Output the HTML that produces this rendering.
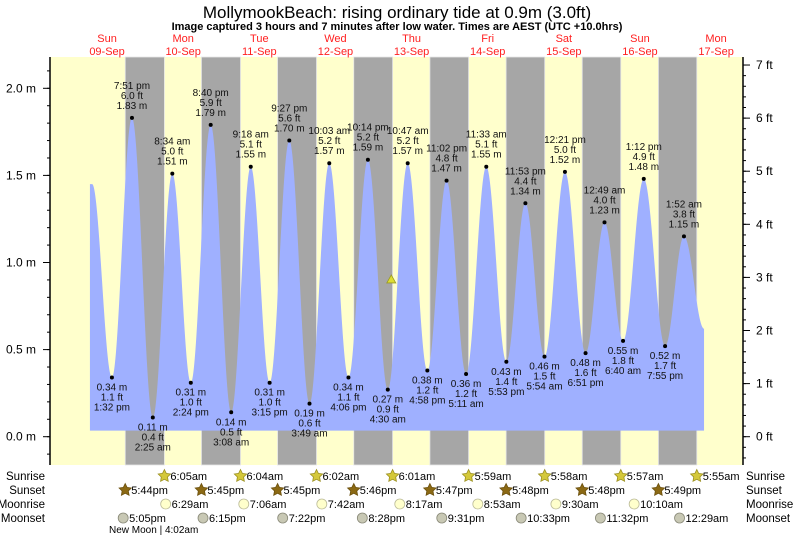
<!DOCTYPE html>
<html><head><meta charset="utf-8">
<style>
html,body{margin:0;padding:0;background:#fff;}
svg{display:block;font-family:"Liberation Sans",sans-serif;}
</style></head>
<body>
<svg id="chart" width="793" height="539" viewBox="0 0 793 539" xmlns="http://www.w3.org/2000/svg">
<text x="397" y="18" text-anchor="middle" font-size="17" fill="#000">MollymookBeach: rising  ordinary tide at 0.9m (3.0ft)</text>
<text x="397" y="30" text-anchor="middle" font-size="11" font-weight="bold" fill="#000">Image captured 3 hours and 7 minutes after low water. Times are AEST (UTC +10.0hrs)</text>
<g id="bg"></g><g id="tide"></g><g id="marks"></g><g id="axes"></g><g id="rows"></g>
</svg>
<script>
// ---- data ----
const dayNames = ["Sun","Mon","Tue","Wed","Thu","Fri","Sat","Sun","Mon"];
const dayDates = ["09-Sep","10-Sep","11-Sep","12-Sep","13-Sep","14-Sep","15-Sep","16-Sep","17-Sep"];
// tide extremes: hours since 09-Sep 00:00
const tideTimes = [7.3,13.53,19.85,26.42,32.57,38.4,44.67,51.13,57.3,63.25,69.45,75.82,82.05,88.1,94.23,100.5,106.78,112.97,119.03,125.18,131.55,137.88,143.88,149.9,156.35,162.85,168.82,174.67,181.2,187.92,193.87,200.2];
const tideHeights = [1.45,0.34,1.83,0.11,1.51,0.31,1.79,0.14,1.55,0.31,1.70,0.19,1.57,0.34,1.59,0.27,1.57,0.38,1.47,0.36,1.55,0.43,1.34,0.46,1.52,0.48,1.23,0.55,1.48,0.52,1.15,0.62];
const tideLabels = ["","1:32 pm","7:51 pm","2:25 am","8:34 am","2:24 pm","8:40 pm","3:08 am","9:18 am","3:15 pm","9:27 pm","3:49 am","10:03 am","4:06 pm","10:14 pm","4:30 am","10:47 am","4:58 pm","11:02 pm","5:11 am","11:33 am","5:53 pm","11:53 pm","5:54 am","12:21 pm","6:51 pm","12:49 am","6:40 am","1:12 pm","7:55 pm","1:52 am",""];
const sunsetTimes = [17.73,41.75,65.75,89.77,113.78,137.8,161.8,185.82];
const sunriseTimes = [30.08,54.07,78.03,102.02,125.98,149.97,173.95,197.92];
const sunriseLabels = ["6:05am","6:04am","6:02am","6:01am","5:59am","5:58am","5:57am","5:55am"];
const sunsetLabels = ["5:44pm","5:45pm","5:45pm","5:46pm","5:47pm","5:48pm","5:48pm","5:49pm"];
const moonriseTimes = [30.48,55.1,79.7,104.28,128.88,153.5,178.17];
const moonriseLabels = ["6:29am","7:06am","7:42am","8:17am","8:53am","9:30am","10:10am"];
const moonsetTimes = [17.08,42.25,67.37,92.47,117.52,142.55,167.53,192.48];
const moonsetLabels = ["5:05pm","6:15pm","7:22pm","8:28pm","9:31pm","10:33pm","11:32pm","12:29am"];
const leftTicks = [0.0,0.5,1.0,1.5,2.0];
const rightTicks = [0,1,2,3,4,5,6,7];
const currentTime = 101.6, currentHeight = 0.9;
const tStart = 6.6, tEnd = 200.2;

// ---- scales ----
const PL=50, PR=743, PT=57, PB=465;
const x = t => 69 + t*3.172;
const y = h => 436.7 - h*174.2;
const yft = f => y(f*0.3048);
const NS="http://www.w3.org/2000/svg";
function mk(tag, attrs, parent, txt){
  const e=document.createElementNS(NS,tag);
  for(const k in attrs) e.setAttribute(k,attrs[k]);
  if(txt!==undefined) e.textContent=txt;
  document.getElementById(parent).appendChild(e);
  return e;
}
let e=mk('rect',{x:PL,y:PT,width:PR-PL,height:PB-PT,fill:'#ffffcc'},'bg');


for(let i=0;i<sunsetTimes.length;i++){
  e=mk('rect',{x:x(sunsetTimes[i]),y:PT,width:x(sunriseTimes[i])-x(sunsetTimes[i]),height:PB-PT,fill:'#a6a6a6',stroke:'#e6e6e6','stroke-width':0.8},'bg');
  
  
}
for(let i=0;i<dayNames.length;i++){
  const cx=x(12+24*i);
  e=mk('text',{x:cx,y:42,'text-anchor':'middle','font-size':11,fill:'#ff2020'},'bg',dayNames[i]);
  
  
  e=mk('text',{x:cx,y:55,'text-anchor':'middle','font-size':11,fill:'#ff2020'},'bg',dayDates[i]);
  
  
}
function hAt(t){
  for(let i=0;i<tideTimes.length-1;i++){
    if(t>=tideTimes[i]&&t<=tideTimes[i+1]){
      const f=(t-tideTimes[i])/(tideTimes[i+1]-tideTimes[i]);
      const a=tideHeights[i], b=tideHeights[i+1];
      return a+(b-a)*(1-Math.cos(Math.PI*f))/2;
    }
  }
  return tideHeights[0];
}
const base=0.035;
let d='M'+x(tStart)+','+y(base);
for(let t=tStart;t<=tEnd;t+=0.1){ d+=' L'+x(t).toFixed(2)+','+y(hAt(t)).toFixed(2); }
d+=' L'+x(tEnd)+','+y(hAt(tEnd))+' L'+x(tEnd)+','+y(base)+' Z';
e=mk('path',{d:d,fill:'#9fb0ff'},'tide');


for(let i=1;i<tideTimes.length-1;i++){
  const px=x(tideTimes[i]), py=y(tideHeights[i]);
  const high=tideHeights[i]>tideHeights[i-1];
  e=mk('circle',{cx:px,cy:py,r:2,fill:'#000'},'marks');
  
  
  const m=tideHeights[i].toFixed(2)+' m', ft=(tideHeights[i]/0.3048).toFixed(1)+' ft';
  const lines = high?[tideLabels[i],ft,m]:[m,ft,tideLabels[i]];
  const y0 = high? py-29 : py+13;
  lines.forEach((s,k)=>{
    e=mk('text',{x:px,y:y0+k*10,'text-anchor':'middle','font-size':10,fill:'#111'},'marks',s);
    
    
  });
}
const cx0=x(currentTime), cy0=y(currentHeight);
e=mk('polygon',{points:`${cx0-4.5},${cy0+3} ${cx0+4.5},${cy0+3} ${cx0},${cy0-5}`,fill:'#dddd33',stroke:'#999922','stroke-width':0.8},'marks');


e=mk('line',{x1:PL,y1:PT,x2:PL,y2:PB,stroke:'#000','stroke-width':1.5},'axes');


e=mk('line',{x1:PR,y1:PT,x2:PR,y2:PB,stroke:'#000','stroke-width':1.5},'axes');


for(let v=-0.1;v<=2.15;v+=0.1){
  const yy=y(v); if(yy<PT||yy>PB) continue;
  mk('line',{x1:PL-3,y1:yy,x2:PL,y2:yy,stroke:'#000','stroke-width':1},'axes');
}
leftTicks.forEach(v=>{
  mk('line',{x1:PL-7,y1:y(v),x2:PL,y2:y(v),stroke:'#000','stroke-width':1},'axes');
  e=mk('text',{x:36,y:y(v)+4,'text-anchor':'end','font-size':12,fill:'#000'},'axes',v.toFixed(1)+' m');
  
  
});
for(let f=-0.4;f<=7.3;f+=0.2){
  const yy=yft(f); if(yy<PT||yy>PB) continue;
  mk('line',{x1:PR,y1:yy,x2:PR+3,y2:yy,stroke:'#000','stroke-width':1},'axes');
}
rightTicks.forEach(f=>{
  mk('line',{x1:PR,y1:yft(f),x2:PR+7,y2:yft(f),stroke:'#000','stroke-width':1},'axes');
  e=mk('text',{x:756,y:yft(f)+4,'font-size':12,fill:'#000'},'axes',f+' ft');
  
  
});
const rowY=[476,490,504,518];
const rowNames=["Sunrise","Sunset","Moonrise","Moonset"];
rowNames.forEach((n,i)=>{
  e=mk('text',{x:45,y:rowY[i]+4,'text-anchor':'end','font-size':11.5,fill:'#000'},'rows',n);
  
  
  e=mk('text',{x:746,y:rowY[i]+4,'font-size':11.5,fill:'#000'},'rows',n);
  
  
});
function star(cx,cy,r,fill,stroke){
  let p=[];
  for(let k=0;k<10;k++){const a=-Math.PI/2+k*Math.PI/5;const rr=k%2?r*0.5:r;p.push((cx+rr*Math.cos(a)).toFixed(1)+','+(cy+rr*Math.sin(a)).toFixed(1));}
  return mk('polygon',{points:p.join(' '),fill:fill,stroke:stroke,'stroke-width':0.8},'rows');
}
sunriseTimes.forEach((t,i)=>{
  e=star(x(t),rowY[0],6.5,'#d4c83a','#9a8f20');
  
  
  e=mk('text',{x:x(t)+6,y:rowY[0]+4,'font-size':11,fill:'#000'},'rows',sunriseLabels[i]);
  
  
});
sunsetTimes.forEach((t,i)=>{
  e=star(x(t),rowY[1],6.5,'#8b6914','#6b500e');
  
  
  e=mk('text',{x:x(t)+6,y:rowY[1]+4,'font-size':11,fill:'#000'},'rows',sunsetLabels[i]);
  
  
});
moonriseTimes.forEach((t,i)=>{
  e=mk('circle',{cx:x(t),cy:rowY[2],r:5,fill:'#ffffcc',stroke:'#bbbb99','stroke-width':0.8},'rows');
  
  
  e=mk('text',{x:x(t)+6,y:rowY[2]+4,'font-size':11,fill:'#000'},'rows',moonriseLabels[i]);
  
  
});
moonsetTimes.forEach((t,i)=>{
  e=mk('circle',{cx:x(t),cy:rowY[3],r:5,fill:'#c8c8b4',stroke:'#888877','stroke-width':0.8},'rows');
  
  
  e=mk('text',{x:x(t)+6,y:rowY[3]+4,'font-size':11,fill:'#000'},'rows',moonsetLabels[i]);
  
  
});
e=mk('text',{x:109,y:533,'font-size':10,fill:'#000'},'rows','New Moon | 4:02am');


</script>
</body></html>
